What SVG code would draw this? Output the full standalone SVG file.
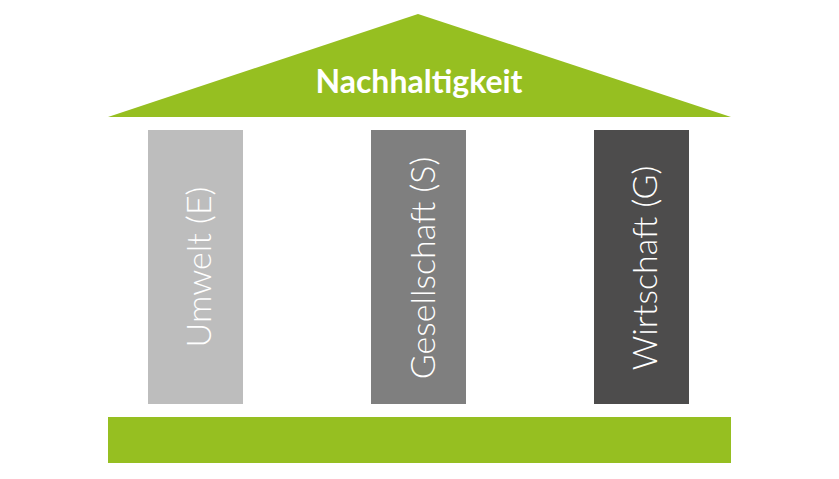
<svg xmlns="http://www.w3.org/2000/svg" width="839" height="479" viewBox="0 0 839 479">
<style>
.green{fill:#96bf21}
.pt{font-family:Lato,"Open Sans",sans-serif;font-weight:300;font-size:34px;fill:#ffffff;text-anchor:middle;dominant-baseline:central}
.title{font-family:Lato,"Open Sans",sans-serif;font-weight:700;font-size:32px;fill:#ffffff;text-anchor:middle}
</style>
<rect width="839" height="479" fill="#ffffff"/>
<g id="roof">
<polygon class="green" points="418,14 731,117 108,117"/>
<text class="title" x="419" y="93">Nachhaltigkeit</text>
</g>
<g id="umwelt">
<rect x="148" y="130" width="95" height="274" fill="#bdbdbd"/>
<text class="pt" transform="translate(197,267) rotate(-90)">Umwelt (E)</text>
</g>
<g id="gesellschaft">
<rect x="371" y="130" width="95" height="274" fill="#7f7f7f"/>
<text class="pt" transform="translate(421,268) rotate(-90)">Gesellschaft (S)</text>
</g>
<g id="wirtschaft">
<rect x="594" y="130" width="95" height="274" fill="#4d4c4c"/>
<text class="pt" transform="translate(643,268) rotate(-90)">Wirtschaft (G)</text>
</g>
<g id="base">
<rect class="green" x="108" y="417" width="623" height="46"/>
</g>
<g id="connectors"></g>
</svg>
